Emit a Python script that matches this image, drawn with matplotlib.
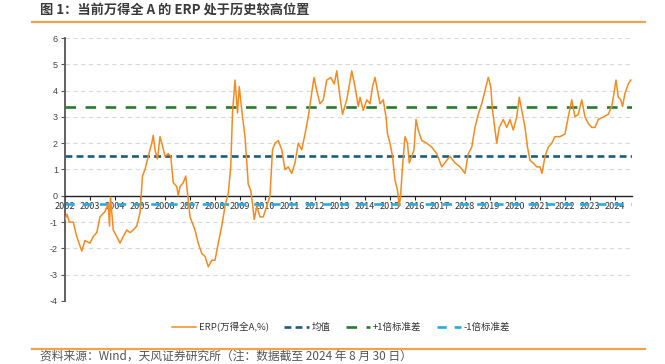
import matplotlib
matplotlib.use("Agg")
import matplotlib.pyplot as plt
from matplotlib.lines import Line2D

plt.rcParams['font.family'] = ['Noto Sans CJK SC', 'DejaVu Sans']

# ---- data (decimal year, ERP %) ----
years = [2002.0, 2002.08, 2002.17, 2002.33, 2002.47, 2002.67, 2002.8, 2003.0, 2003.13, 2003.27,
         2003.4, 2003.6, 2003.73, 2003.78, 2003.82, 2003.93, 2004.07, 2004.2, 2004.33, 2004.47,
         2004.6, 2004.73, 2004.87, 2005.0, 2005.1, 2005.2, 2005.33, 2005.47, 2005.53, 2005.6,
         2005.7, 2005.8, 2005.9, 2006.0, 2006.13, 2006.23, 2006.33, 2006.47, 2006.53, 2006.6,
         2006.73, 2006.83, 2006.9, 2007.0, 2007.2, 2007.33, 2007.47, 2007.6, 2007.73, 2007.87,
         2008.0, 2008.13, 2008.27, 2008.4, 2008.53, 2008.63, 2008.7, 2008.8, 2008.9, 2008.97,
         2009.1, 2009.2, 2009.33, 2009.43, 2009.5, 2009.57, 2009.67, 2009.8, 2009.93, 2010.07,
         2010.2, 2010.3, 2010.4, 2010.53, 2010.67, 2010.8, 2010.93, 2011.07, 2011.2, 2011.33,
         2011.47, 2011.6, 2011.73, 2011.87, 2011.96, 2012.07, 2012.2, 2012.33, 2012.47, 2012.63,
         2012.77, 2012.87, 2013.0, 2013.1, 2013.27, 2013.47, 2013.6, 2013.73, 2013.8, 2013.93,
         2014.07, 2014.2, 2014.3, 2014.4, 2014.5, 2014.6, 2014.73, 2014.84, 2014.9, 2015.0,
         2015.1, 2015.2, 2015.3, 2015.37, 2015.43, 2015.5, 2015.6, 2015.7, 2015.77, 2015.87,
         2015.96, 2016.04, 2016.13, 2016.27, 2016.47, 2016.67, 2016.87, 2017.07, 2017.27, 2017.4,
         2017.6, 2017.8, 2018.0, 2018.13, 2018.27, 2018.4, 2018.53, 2018.67, 2018.8, 2018.93,
         2019.03, 2019.1, 2019.2, 2019.27, 2019.37, 2019.53, 2019.67, 2019.8, 2019.93, 2020.07,
         2020.17, 2020.27, 2020.4, 2020.5, 2020.6, 2020.73, 2020.87, 2021.0, 2021.08, 2021.2,
         2021.33, 2021.47, 2021.6, 2021.8, 2022.0, 2022.13, 2022.27, 2022.4, 2022.53, 2022.67,
         2022.8, 2022.93, 2023.07, 2023.2, 2023.33, 2023.53, 2023.73, 2023.87, 2023.96, 2024.04,
         2024.13, 2024.23, 2024.3, 2024.4, 2024.53, 2024.63]
erp = [-0.9, -0.7, -1.0, -1.0, -1.55, -2.1, -1.7, -1.8, -1.55, -1.4,
       -0.8, -0.6, -0.3, -1.15, -0.05, -1.3, -1.55, -1.8, -1.55, -1.3,
       -1.4, -1.3, -1.15, -0.65, 0.75, 1.0, 1.5, 2.0, 2.3, 1.75,
       1.4, 2.25, 1.9, 1.5, 1.6, 1.5, 0.5, 0.35, 0.0, 0.35,
       0.5, 0.75, 0.1, -0.8, -1.3, -1.8, -2.2, -2.3, -2.7, -2.45,
       -2.45, -1.8, -1.15, -0.4, 0.1, 1.1, 3.15, 4.4, 3.15, 4.15,
       3.0, 2.25, 0.45, 0.2, -0.3, -0.9, -0.4, -0.8, -0.8, -0.4,
       0.0, 1.75, 2.0, 2.1, 1.75, 1.0, 1.1, 0.85, 1.25, 2.0,
       1.75, 2.35, 3.0, 3.9, 4.5, 4.0, 3.5, 3.65, 4.4, 4.5,
       4.25, 4.75, 3.75, 3.1, 3.65, 4.75, 4.15, 3.4, 3.75, 3.25,
       3.65, 3.5, 4.15, 4.5, 4.0, 3.5, 3.65, 3.0, 2.35, 2.0,
       1.5, 0.6, 0.2, -0.4, 0.1, 1.1, 2.25, 2.0, 1.25, 1.5,
       1.75, 2.9, 2.5, 2.1, 2.0, 1.85, 1.6, 1.1, 1.35, 1.5,
       1.25, 1.1, 0.85, 1.6, 1.85, 2.6, 3.1, 3.5, 4.0, 4.5,
       4.15, 3.25, 2.5, 2.0, 2.6, 2.9, 2.6, 2.9, 2.5, 3.0,
       3.75, 3.25, 2.6, 1.85, 1.35, 1.25, 1.1, 1.1, 0.85, 1.5,
       1.85, 2.0, 2.25, 2.25, 2.35, 3.0, 3.65, 3.0, 3.1, 3.65,
       3.0, 2.75, 2.6, 2.6, 2.9, 3.0, 3.1, 3.4, 3.9, 4.4,
       3.75, 3.65, 3.4, 3.9, 4.25, 4.4]
mean_val = 1.52
std_val = 1.85
year_ticks = list(range(2002, 2025))
y_ticks = list(range(-4, 7))

labels = ['ERP(万得全A,%)', '均值', '+1倍标准差', '-1倍标准差']
c_erp = '#F58B1F'
c_mean = '#1D5B7C'
c_plus = '#2A7A2E'
c_minus = '#29A9E0'

W, H = 665, 364
fig = plt.figure(figsize=(W / 100, H / 100), dpi=100)
ax = fig.add_axes([65 / W, 1 - 301 / H, (632 - 65) / W, (301 - 38) / H])

# grid
for yv in y_ticks:
    if yv != 0:
        ax.axhline(yv, color='#D9D9D9', lw=0.8, ls=(0, (4, 3)), zorder=0)

ax.plot(years, erp, color=c_erp, lw=1.1, zorder=3)
ax.axhline(mean_val, color=c_mean, lw=1.9, ls=(0, (2.6, 1.6)), zorder=2)
ax.axhline(mean_val + std_val, color=c_plus, lw=1.9, ls=(0, (4, 3.6)), zorder=2)
ax.axhline(mean_val - std_val, color=c_minus, lw=1.9, ls=(0, (3.5, 3)), zorder=2)

ax.set_xlim(2002, 2024.68)
ax.set_ylim(-4, 6)
ax.set_yticks(y_ticks)
ax.set_xticks(year_ticks)
ax.set_xticklabels([str(y) for y in year_ticks], family=['Liberation Sans', 'DejaVu Sans'])
ax.set_yticklabels([str(y) for y in y_ticks], family=['Liberation Sans', 'DejaVu Sans'])

for s in ['top', 'right']:
    ax.spines[s].set_visible(False)
ax.spines['bottom'].set_position(('data', 0))
ax.spines['bottom'].set_color('#222222')
ax.spines['bottom'].set_linewidth(1.0)
ax.spines['left'].set_color('#555555')
ax.spines['left'].set_linewidth(1.3)
ax.tick_params(axis='x', direction='out', length=3, width=0.8, colors='#222222',
               labelsize=6.5, pad=1.5, labelcolor='#333333')
ax.tick_params(axis='y', direction='out', length=3, width=0.8, colors='#555555',
               labelsize=6.5, pad=2, labelcolor='#444444')

# legend
handles = [Line2D([], [], color=c_erp, lw=1.1),
           Line2D([], [], color=c_mean, lw=1.9, ls=(0, (2.6, 1.6))),
           Line2D([], [], color=c_plus, lw=1.9, ls=(0, (4, 3.6))),
           Line2D([], [], color=c_minus, lw=1.9, ls=(0, (3.5, 3)))]
fig.legend(handles, labels, loc='center', bbox_to_anchor=(341 / W, 1 - 327 / H), ncol=4,
           frameon=False, fontsize=6.8, handlelength=2.6, handletextpad=0.3,
           columnspacing=1.6, labelcolor='#333333')

# title & rules
fig.text(40 / W, 1 - 10 / H, '图 1：当前万得全 A 的 ERP 处于历史较高位置', fontsize=9.5,
         fontweight='bold', color='#3A3A3A', va='center', ha='left')
fig.add_artist(Line2D([32 / W, 645 / W], [1 - 22 / H, 1 - 22 / H], color='#F5A04A', lw=1.6))
fig.add_artist(Line2D([32 / W, 645 / W], [1 - 349 / H, 1 - 349 / H], color='#F5A04A', lw=1.6))
fig.text(40 / W, 1 - 363 / H, '资料来源：Wind，天风证券研究所（注：数据截至 2024 年 8 月 30 日）',
         fontsize=8.5, color='#555555', va='bottom', ha='left')

fig.savefig('out.png', dpi=100)
